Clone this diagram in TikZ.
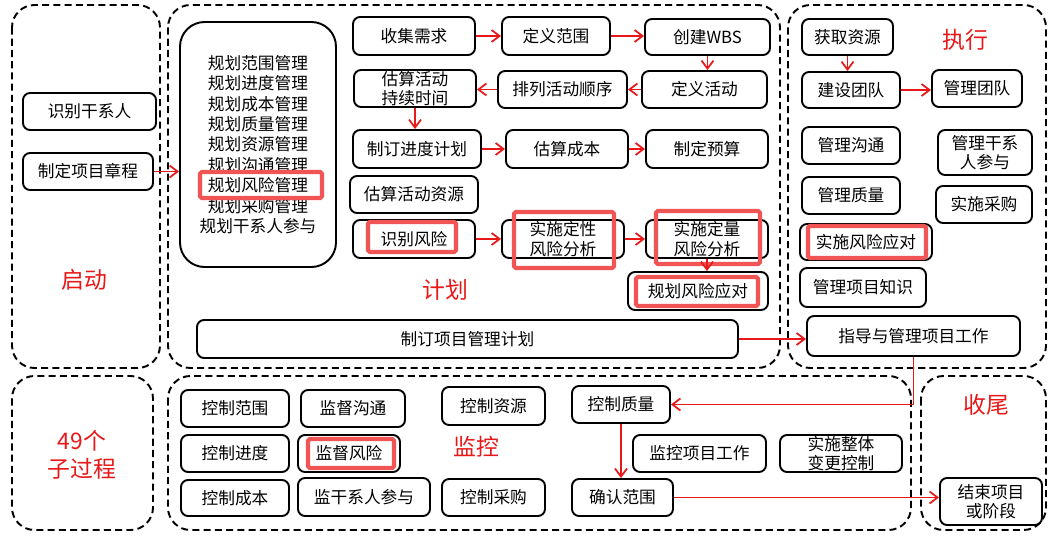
\documentclass[tikz,border=0pt]{standalone}
\usepackage{fontspec}
\setmainfont{Noto Sans CJK SC}
\usetikzlibrary{arrows.meta}
\definecolor{hlred}{RGB}{240,84,84}
\definecolor{arrred}{RGB}{232,24,24}

% box from its corners in pixel units: \procbox[opts]{name}{x1}{y1}{x2}{y2}{text}
\newcommand\procbox[7][]{%
  \node[proc,minimum width={(#5-#3)*0.02cm},minimum height={(#6-#4)*0.02cm},#1]
    (#2) at ({(#3+#5)/2},{(#4+#6)/2}) {#7};}

\begin{document}
\begin{tikzpicture}[x=0.02cm,y=-0.02cm,
    proc/.style={rectangle,draw=black,rounded corners=4pt,line width=1.1pt,inner sep=0pt,align=center,font=\fontsize{9.5}{11}\selectfont},
    group/.style={draw=black,line width=1.1pt,dash pattern=on 4pt off 2.4pt,rounded corners=0.45cm},
    hl/.style={draw=hlred,line width=2.3pt,rounded corners=1pt},
    stage/.style={text=arrred,font=\fontsize{13}{16}\selectfont,align=center},
    flow/.style={draw=arrred,line width=1pt,-{Straight Barb[length=1.6mm,width=2.4mm]}},
]
\fill[white] (0,0) rectangle (1056,537);
\useasboundingbox (0,0) rectangle (1056,537);

% stage frames
\draw[group] (12,5) rectangle (160,368);
\draw[group] (168,5) rectangle (780,368);
\draw[group] (788,5) rectangle (1046,368);
\draw[group] (12,376) rectangle (153,530);
\draw[group] (168,376) rectangle (911,530);
\draw[group] (921,376) rectangle (1046,530);

\node[stage] (linit) at (84,280) {启动};
\node[stage] (lplan) at (445,290) {计划};
\node[stage] (lexec) at (965,40) {执行};
\node[stage] (lsub) at (82,455) {49个\\子过程};
\node[stage] (lmon) at (476,447) {监控};
\node[stage] (lclose) at (986,405) {收尾};

% initiating
\procbox{stake}{23}{93}{156}{130}{识别干系人}
\procbox{charter}{23}{153}{153}{190}{制定项目章程}

% planning
\procbox[rounded corners=14pt,font=\fontsize{9.5}{11.6}\selectfont]{plist}{180}{22}{336}{267}
    {规划范围管理\\规划进度管理\\规划成本管理\\规划质量管理\\规划资源管理\\规划沟通管理\\规划风险管理\\规划采购管理\\规划干系人参与}
\procbox{collect}{353}{17}{475}{55}{收集需求}
\procbox{defscope}{502}{17}{610}{55}{定义范围}
\procbox{wbs}{645}{19}{770}{55}{创建WBS}
\procbox{dur}{354}{70}{476}{107}{估算活动\\持续时间}
\procbox{seq}{498}{71}{627}{108}{排列活动顺序}
\procbox{defact}{642}{71}{767}{108}{定义活动}
\procbox{sched}{353}{130}{481}{168}{制订进度计划}
\procbox{cost}{506}{130}{628}{168}{估算成本}
\procbox{budget}{646}{130}{768}{168}{制定预算}
\procbox{res}{350}{176}{478}{213}{估算活动资源}
\procbox{risk}{353}{220}{475}{258}{识别风险}
\procbox{qual}{502}{220}{624}{258}{实施定性\\风险分析}
\procbox{quant}{646}{220}{768}{258}{实施定量\\风险分析}
\procbox{resp}{628}{272}{768}{310}{规划风险应对}
\procbox{pmplan}{197}{320}{738}{358}{制订项目管理计划}

% executing
\procbox{acquire}{802}{19}{893}{55}{获取资源}
\procbox{develop}{802}{72}{900}{108}{建设团队}
\procbox{team}{932}{70}{1022}{107}{管理团队}
\procbox{comm}{802}{127}{900}{164}{管理沟通}
\procbox{engage}{938}{130}{1032}{175}{管理干系\\人参与}
\procbox{quality}{802}{177}{900}{214}{管理质量}
\procbox{procure}{936}{186}{1032}{223}{实施采购}
\procbox{implresp}{800}{224}{932}{260}{实施风险应对}
\procbox{know}{800}{268}{926}{307}{管理项目知识}
\procbox{direct}{807}{316}{1020}{356}{指导与管理项目工作}

% monitoring and controlling
\procbox{cscope}{181}{390}{289}{427}{控制范围}
\procbox{mcomm}{301}{390}{405}{427}{监督沟通}
\procbox{cres}{442}{387}{545}{425}{控制资源}
\procbox{csched}{181}{435}{289}{472}{控制进度}
\procbox{mrisk}{298}{435}{400}{472}{监督风险}
\procbox{ccost}{181}{480}{289}{516}{控制成本}
\procbox{mstake}{298}{478}{430}{516}{监干系人参与}
\procbox{cproc}{442}{479}{545}{516}{控制采购}
\procbox{cqual}{572}{386}{670}{423}{控制质量}
\procbox{mwork}{633}{435}{766}{472}{监控项目工作}
\procbox{change}{780}{435}{902}{472}{实施整体\\变更控制}
\procbox{verify}{572}{479}{673}{516}{确认范围}

% closing
\procbox{closep}{940}{478}{1042}{525}{结束项目\\或阶段}

% risk highlights
\draw[hl] (200,172) rectangle (322,198);
\draw[hl] (368,222) rectangle (456,252);
\draw[hl] (514,212) rectangle (614,268);
\draw[hl] (656,211) rectangle (760,264);
\draw[hl] (636,277) rectangle (758,306);
\draw[hl] (808,226) rectangle (926,258);
\draw[hl] (308,439) rectangle (394,468);

% flows
\draw[flow] (charter.east) -- (charter.east -| plist.west);
\draw[flow] (collect.east) -- (defscope.west);
\draw[flow] (defscope.east) -- (defscope.east -| wbs.west);
\draw[flow] (wbs.south) -- (wbs.south |- defact.north);
\draw[flow] (defact.west) -- (defact.west -| seq.east);
\draw[flow] (seq.west) -- (seq.west -| dur.east);
\draw[flow] (dur.south) -- (dur.south |- sched.north);
\draw[flow] (sched.east) -- (sched.east -| cost.west);
\draw[flow] (cost.east) -- (budget.west);
\draw[flow] (risk.east) -- (risk.east -| qual.west);
\draw[flow] (qual.east) -- (quant.west);
\draw[flow] (quant.south) -- (quant.south |- resp.north);
\draw[flow] (pmplan.east) -- (pmplan.east -| direct.west);
\draw[flow] (acquire.south) -- (acquire.south |- develop.north);
\draw[flow] (develop.east) -- (develop.east -| team.west);
\draw[flow] (direct.south) |- (cqual.east);
\draw[flow] (cqual.south) -- (cqual.south |- verify.north);
\draw[flow] (verify.east) -- (verify.east -| closep.west);
\end{tikzpicture}
\end{document}
